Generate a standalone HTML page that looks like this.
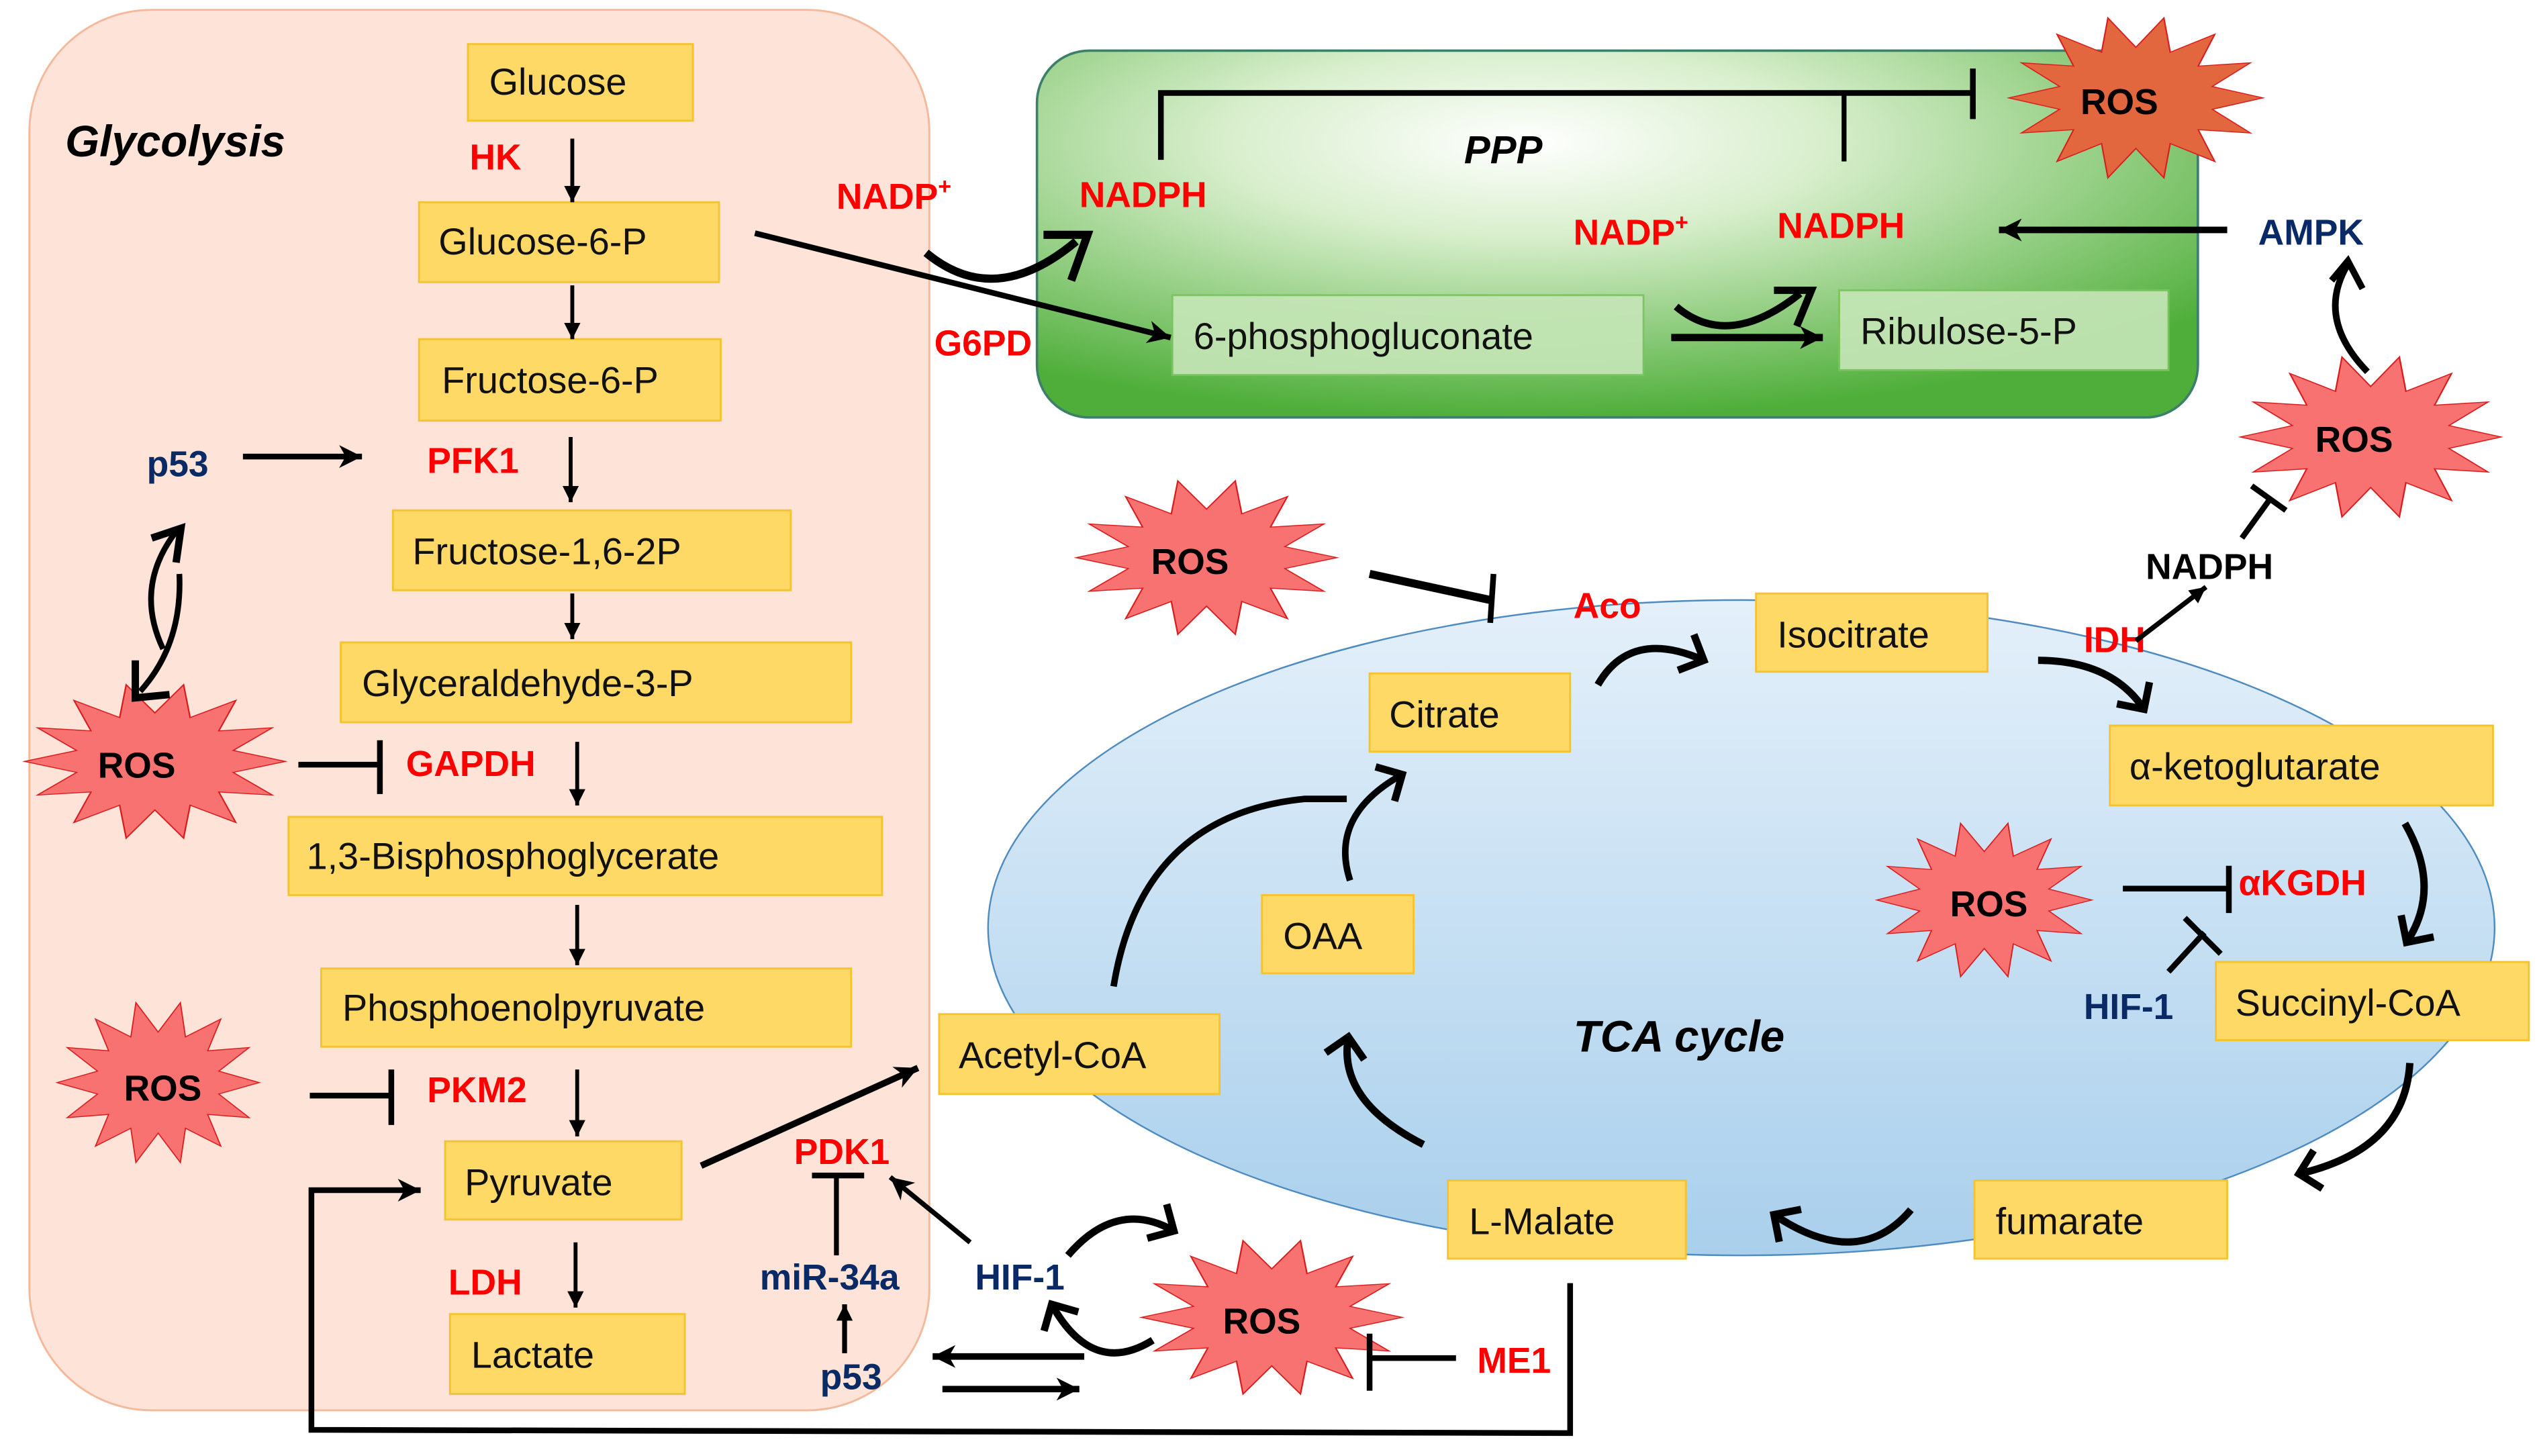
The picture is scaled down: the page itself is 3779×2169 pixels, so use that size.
<!DOCTYPE html>
<html><head><meta charset="utf-8"><style>
html,body{margin:0;padding:0;background:#fff}
svg{display:block}
text{font-family:"Liberation Sans",sans-serif}
.bx{fill:#ffd966;stroke:#f4c430;stroke-width:1.2}
.gb{fill:#c6e6b8;stroke:#7cc462;stroke-width:1.2;opacity:.9}
.t{font-size:23px;fill:#111}
.r{font-size:22px;fill:#f00;font-weight:bold}
.b{font-size:22px;fill:#0a2a66;font-weight:bold}
.k{font-size:22px;fill:#000;font-weight:bold}
.st{fill:#f87272;stroke:#d81e1e;stroke-width:1.2}
.l{stroke:#000;fill:none}
</style></head><body>
<svg width="3779" height="2169" viewBox="0 0 1556 893" xmlns="http://www.w3.org/2000/svg">
<defs>
<radialGradient id="gg" cx="0.42" cy="0.25" r="0.75">
<stop offset="0" stop-color="#ffffff"/><stop offset="0.35" stop-color="#d7eecb"/><stop offset="1" stop-color="#4fae3a"/></radialGradient>
<linearGradient id="bg" x1="0" y1="0" x2="0" y2="1">
<stop offset="0" stop-color="#e4f0fa"/><stop offset="1" stop-color="#a9cfec"/></linearGradient>
<marker id="tri" markerUnits="userSpaceOnUse" markerWidth="20" markerHeight="20" refX="14" refY="7" orient="auto">
<path d="M0,0 L14,7 L0,14 L4,7 Z" fill="#000"/></marker>
<marker id="tris" markerUnits="userSpaceOnUse" markerWidth="14" markerHeight="14" refX="10" refY="5" orient="auto">
<path d="M0,0 L10,5 L0,10 Z" fill="#000"/></marker>
<marker id="chev" markerUnits="userSpaceOnUse" markerWidth="30" markerHeight="30" refX="15" refY="15" orient="auto">
<path d="M3,3 L15,15 L3,27" fill="none" stroke="#000" stroke-width="4.5"/></marker>
<path id="star" d="M100,0 L60,14 L90,43 L49,39 L62,78 L27,56 L22,98 L0,62 L-22,98 L-27,56 L-62,78 L-49,39 L-90,43 L-60,14 L-100,0 L-60,-14 L-90,-43 L-49,-39 L-62,-78 L-27,-56 L-22,-98 L0,-62 L22,-98 L27,-56 L62,-78 L49,-39 L90,-43 L60,-14 Z"/>
</defs>

<rect x="18" y="6" width="552" height="859" rx="75" fill="#fde3d8" stroke="#f4b99a" stroke-width="1.2"/>
<text x="40" y="96" font-size="27" font-weight="bold" font-style="italic">Glycolysis</text>

<rect x="636" y="31" width="712" height="225" rx="32" fill="url(#gg)" stroke="#3d7f6a" stroke-width="1.5"/>
<text x="898" y="100" font-size="24" font-weight="bold" font-style="italic">PPP</text>

<ellipse cx="1068" cy="569" rx="462" ry="201" fill="url(#bg)" stroke="#4e8bc0" stroke-width="1"/>
<text x="965" y="645" font-size="27" font-weight="bold" font-style="italic">TCA cycle</text>

<rect class="bx" x="287" y="27" width="138" height="47"/><text class="t" x="300" y="58">Glucose</text>
<rect class="bx" x="257" y="124" width="184" height="49"/><text class="t" x="269" y="156">Glucose-6-P</text>
<rect class="bx" x="257" y="208" width="185" height="50"/><text class="t" x="271" y="241">Fructose-6-P</text>
<rect class="bx" x="241" y="313" width="244" height="49"/><text class="t" x="253" y="346">Fructose-1,6-2P</text>
<rect class="bx" x="209" y="394" width="313" height="49"/><text class="t" x="222" y="427">Glyceraldehyde-3-P</text>
<rect class="bx" x="177" y="501" width="364" height="48"/><text class="t" x="188" y="533">1,3-Bisphosphoglycerate</text>
<rect class="bx" x="197" y="594" width="325" height="48"/><text class="t" x="210" y="626">Phosphoenolpyruvate</text>
<rect class="bx" x="273" y="700" width="145" height="48"/><text class="t" x="285" y="733">Pyruvate</text>
<rect class="bx" x="276" y="806" width="144" height="49"/><text class="t" x="289" y="839">Lactate</text>

<rect class="gb" x="719" y="181" width="289" height="49"/><text class="t" x="732" y="214">6-phosphogluconate</text>
<rect class="gb" x="1128" y="178" width="202" height="49"/><text class="t" x="1141" y="211">Ribulose-5-P</text>

<rect class="bx" x="1077" y="364" width="142" height="48"/><text class="t" x="1090" y="397">Isocitrate</text>
<rect class="bx" x="840" y="413" width="123" height="48"/><text class="t" x="852" y="446">Citrate</text>
<rect class="bx" x="1294" y="445" width="235" height="49"/><text class="t" x="1306" y="478">α-ketoglutarate</text>
<rect class="bx" x="774" y="549" width="93" height="48"/><text class="t" x="787" y="582">OAA</text>
<rect class="bx" x="1359" y="590" width="192" height="48"/><text class="t" x="1371" y="623">Succinyl-CoA</text>
<rect class="bx" x="576" y="622" width="172" height="49"/><text class="t" x="588" y="655">Acetyl-CoA</text>
<rect class="bx" x="888" y="724" width="146" height="48"/><text class="t" x="901" y="757">L-Malate</text>
<rect class="bx" x="1211" y="724" width="155" height="48"/><text class="t" x="1224" y="757">fumarate</text>

<use href="#star" class="st" transform="translate(1310,60) scale(0.78,0.5)" style="fill:#e2663e;stroke:#d82020"/>
<text class="k" x="1276" y="70" font-size="23">ROS</text>
<use href="#star" class="st" transform="translate(1454,268) scale(0.8,0.5)"/>
<text class="k" x="1420" y="277" font-size="23">ROS</text>
<use href="#star" class="st" transform="translate(740,342) scale(0.8,0.48)"/>
<text class="k" x="706" y="352" font-size="23">ROS</text>
<use href="#star" class="st" transform="translate(95,467) scale(0.8,0.48)"/>
<text class="k" x="60" y="477" font-size="23">ROS</text>
<use href="#star" class="st" transform="translate(97,664) scale(0.62,0.5)"/>
<text class="k" x="76" y="675" font-size="23">ROS</text>
<use href="#star" class="st" transform="translate(1217,552) scale(0.66,0.48)"/>
<text class="k" x="1196" y="562" font-size="23">ROS</text>
<use href="#star" class="st" transform="translate(780,808) scale(0.8,0.48)"/>
<text class="k" x="750" y="818" font-size="23">ROS</text>

<text class="r" x="288" y="104">HK</text>
<text class="r" x="262" y="290">PFK1</text>
<text class="r" x="249" y="476">GAPDH</text>
<text class="r" x="262" y="676">PKM2</text>
<text class="r" x="275" y="794">LDH</text>
<text class="r" x="487" y="714">PDK1</text>
<text class="b" x="90" y="292">p53</text>
<text class="b" x="466" y="791">miR-34a</text>
<text class="b" x="598" y="791">HIF-1</text>
<text class="b" x="503" y="852">p53</text>
<text class="r" x="513" y="128">NADP<tspan font-size="14" dy="-9">+</tspan></text>
<text class="r" x="662" y="127">NADPH</text>
<text class="r" x="573" y="218">G6PD</text>
<text class="r" x="965" y="150">NADP<tspan font-size="14" dy="-9">+</tspan></text>
<text class="r" x="1090" y="146">NADPH</text>
<text class="b" x="1385" y="150">AMPK</text>
<text class="k" x="1316" y="355">NADPH</text>
<text class="r" x="965" y="379">Aco</text>
<text class="r" x="1278" y="400">IDH</text>
<text class="r" x="1373" y="549">αKGDH</text>
<text class="b" x="1278" y="625">HIF-1</text>
<text class="r" x="906" y="842">ME1</text>

<g class="l" stroke-width="2.4">
<line x1="351" y1="85" x2="351" y2="124" marker-end="url(#tris)"/>
<line x1="351" y1="175" x2="351" y2="208" marker-end="url(#tris)"/>
<line x1="350" y1="268" x2="350" y2="308" marker-end="url(#tris)"/>
<line x1="351" y1="364" x2="351" y2="392" marker-end="url(#tris)"/>
<line x1="354" y1="455" x2="354" y2="494" marker-end="url(#tris)"/>
<line x1="354" y1="555" x2="354" y2="592" marker-end="url(#tris)"/>
<line x1="354" y1="656" x2="354" y2="697" marker-end="url(#tris)"/>
<line x1="353" y1="762" x2="353" y2="802" marker-end="url(#tris)"/>
</g>

<g class="l" stroke-width="3.5">
<line x1="149" y1="280" x2="222" y2="280" marker-end="url(#tri)"/>
<!-- p53 <-> ROS crossed arcs -->
<path d="M100,398 Q82,360 108,326" stroke-width="3.5"/>
<path d="M93,330 L111,324 L108,345" stroke-width="4.5"/>
<path d="M110,352 Q112,395 86,424" stroke-width="3.5"/>
<path d="M83,405 L83,428 L104,426" stroke-width="4.5"/>
<line x1="183" y1="469" x2="233" y2="469"/><line x1="233" y1="454" x2="233" y2="487"/>
<line x1="190" y1="672" x2="240" y2="672"/><line x1="240" y1="656" x2="240" y2="690"/>
<line x1="463" y1="143" x2="718" y2="207" marker-end="url(#tri)"/>
<path d="M568,155 Q610,190 660,148" stroke-width="5"/>
<path d="M640,144 L667,144 L657,172" stroke-width="5"/>
<path d="M712,98 L712,57 L1210,57"/>
<line x1="1210" y1="42" x2="1210" y2="73"/>
<line x1="1131" y1="57" x2="1131" y2="99" stroke-width="3"/>
<line x1="1366" y1="141" x2="1226" y2="141" marker-end="url(#tri)" stroke-width="4"/>
<line x1="1025" y1="207" x2="1118" y2="207" marker-end="url(#tri)" stroke-width="4.5"/>
<path d="M1028,188 Q1060,215 1104,180" stroke-width="4.5"/>
<path d="M1088,178 L1111,178 L1102,200" stroke-width="4.5"/>
<path d="M1452,228 Q1420,195 1440,162" stroke-width="4"/>
<path d="M1430,172 L1440,160 L1449,177" stroke-width="4"/>
<line x1="1310" y1="393" x2="1353" y2="360" marker-end="url(#tris)" stroke-width="3"/>
<line x1="1375" y1="330" x2="1393" y2="305"/><line x1="1381" y1="298" x2="1402" y2="313"/>
<line x1="840" y1="352" x2="914" y2="368" stroke-width="5"/><line x1="916" y1="352" x2="914" y2="382"/>
<path d="M980,420 Q1000,385 1045,405" stroke-width="4.5" marker-end="url(#chev)"/>
<path d="M1250,405 Q1295,405 1315,435" stroke-width="4.5" marker-end="url(#chev)"/>
<path d="M1475,505 Q1498,545 1476,578" stroke-width="4.5" marker-end="url(#chev)"/>
<path d="M1478,652 Q1475,705 1410,720" stroke-width="4.5" marker-end="url(#chev)"/>
<path d="M1172,742 Q1140,780 1088,745" stroke-width="4.5" marker-end="url(#chev)"/>
<path d="M873,702 Q820,675 827,636" stroke-width="4.5" marker-end="url(#chev)"/>
<path d="M683,605 Q700,500 800,490 L826,490" stroke-width="4"/>
<path d="M828,540 Q815,500 860,475" stroke-width="4" marker-end="url(#chev)"/>
<line x1="430" y1="715" x2="563" y2="655" marker-end="url(#tri)" stroke-width="4"/>
<line x1="513" y1="770" x2="513" y2="722" stroke-width="3"/><line x1="498" y1="721" x2="530" y2="721"/>
<line x1="595" y1="762" x2="546" y2="722" marker-end="url(#tri)" stroke-width="3"/>
<line x1="518" y1="830" x2="518" y2="800" marker-end="url(#tris)" stroke-width="3"/>
<line x1="665" y1="832" x2="572" y2="832" marker-end="url(#tri)" stroke-width="4"/>
<line x1="578" y1="852" x2="662" y2="852" marker-end="url(#tri)" stroke-width="4"/>
<path d="M655,770 Q685,735 720,755" stroke-width="4.5" marker-end="url(#chev)"/>
<path d="M707,822 Q670,845 645,800" stroke-width="4.5" marker-end="url(#chev)"/>
<line x1="893" y1="833" x2="840" y2="833"/><line x1="840" y1="818" x2="840" y2="853"/>
<path d="M963,787 L963,879 L191,877 L191,730 L258,730" marker-end="url(#tri)"/>
<line x1="1302" y1="545" x2="1366" y2="545"/><line x1="1367" y1="531" x2="1367" y2="560"/>
<line x1="1330" y1="596" x2="1352" y2="572"/><line x1="1340" y1="563" x2="1362" y2="585"/>
</g>
</svg>
</body></html>
